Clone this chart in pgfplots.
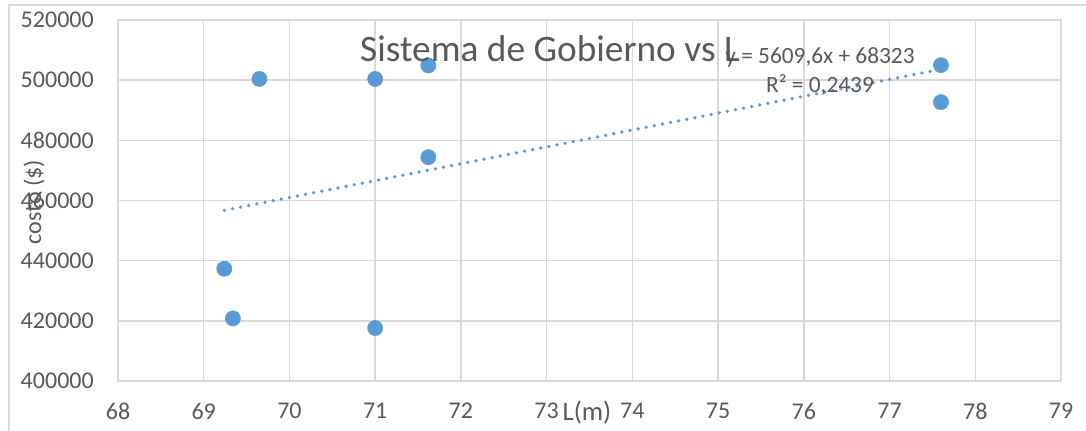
\documentclass[border=0pt]{standalone}
\usepackage{pgfplots}
\pgfplotsset{compat=1.18}
\usepackage{fontspec}
\setmainfont{Carlito}
\definecolor{txt}{HTML}{595959}
\definecolor{grd}{HTML}{D9D9D9}
\definecolor{blu}{HTML}{5B9BD5}
\begin{document}
\begin{tikzpicture}[x=0.75pt,y=0.75pt]
\path[use as bounding box] (0,0) rectangle (1086,430);
\draw[grd, line width=0.9pt] (9,-5) -- (9,425) -- (1090,425);
\begin{axis}[
  at={(88.5pt,36.75pt)}, anchor=south west,
  scale only axis, width=707.25pt, height=270.75pt,
  xmin=68, xmax=79, ymin=400000, ymax=520000,
  xtick={68,...,79},
  ytick={400000,420000,...,520000},
  scaled y ticks=false,
  /pgf/number format/assume math mode=true,
  yticklabel style={/pgf/number format/fixed, /pgf/number format/set thousands separator={}},
  xticklabel style={/pgf/number format/fixed},
  tick label style={font=\fontsize{18}{20}\selectfont, text=txt},
  yticklabel style={anchor=east, inner sep=0pt, xshift=-18pt},
  xticklabel style={anchor=north, inner sep=0pt, yshift=-16.5pt},
  major tick length=0pt,
  grid=major,
  grid style={grd, line width=1.1pt},
  axis line style={grd, line width=1.1pt},
  clip=false,
]
\addplot[only marks, mark=*, mark size=5.7pt, mark options={fill=blu, draw=blu}]
coordinates {
(69.24,437300)
(69.34,420800)
(69.65,500400)
(71.00,500400)
(71.00,417600)
(71.62,504900)
(71.62,474400)
(77.60,505000)
(77.60,492700)
};
\addplot[blu, line width=2.6pt, line cap=round, dash pattern=on 0.2pt off 6pt]
coordinates {(69.24,456732) (77.60,503628)};
\end{axis}
\node[anchor=base, text=txt, font=\fontsize{28}{30}\selectfont, inner sep=0pt] at (550,369) {Sistema de Gobierno vs L};
\node[anchor=base, text=txt, font=\fontsize{17.5}{20}\selectfont, inner sep=0pt] at (820,367) {y = 5609,6x + 68323};
\node[anchor=base, text=txt, font=\fontsize{17.5}{20}\selectfont, inner sep=0pt] at (820,338) {R² = 0,2439};
\node[anchor=base, text=txt, font=\fontsize{20}{22}\selectfont, inner sep=0pt] at (587,10) {L(m)};
\node[rotate=90, text=txt, font=\fontsize{18}{20}\selectfont, inner sep=0pt] at (34,228) {costo (\$)};
\end{tikzpicture}
\end{document}
